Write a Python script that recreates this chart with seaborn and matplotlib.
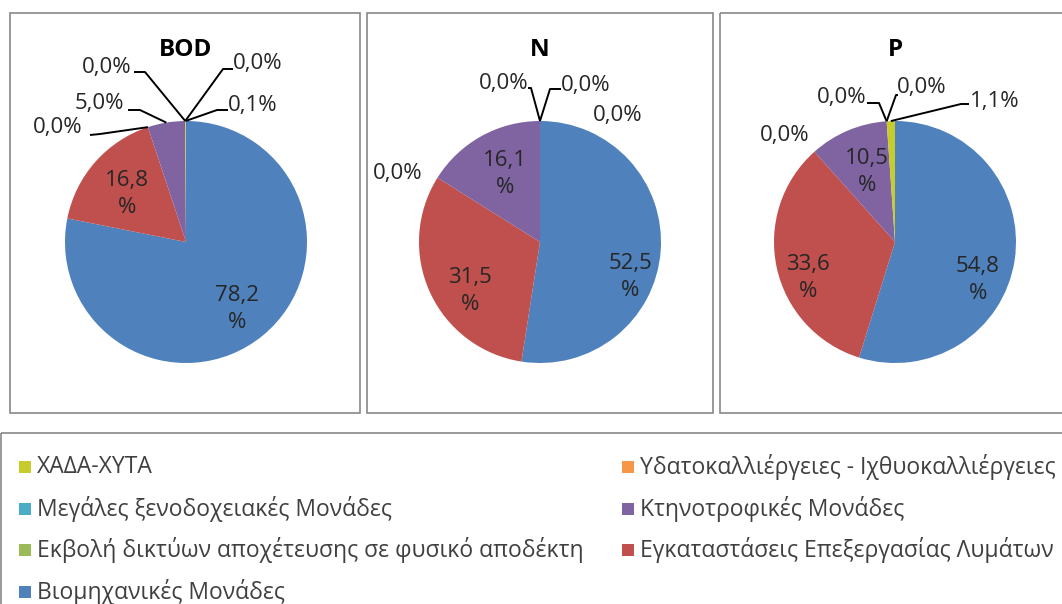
import matplotlib
matplotlib.use("Agg")
import matplotlib.pyplot as plt
import seaborn as sns
import numpy as np
from matplotlib.patches import Rectangle

# Data: pollutant load share per source (percent)
categories = [
    "Βιομηχανικές Μονάδες",
    "Εγκαταστάσεις Επεξεργασίας Λυμάτων",
    "Εκβολή δικτύων αποχέτευσης σε φυσικό αποδέκτη",
    "Κτηνοτροφικές Μονάδες",
    "Μεγάλες ξενοδοχειακές Μονάδες",
    "Υδατοκαλλιέργειες - Ιχθυοκαλλιέργειες",
    "ΧΑΔΑ-ΧΥΤΑ",
]
titles = ["BOD", "N", "P"]
bod_values = [78.2, 16.8, 0.0, 5.0, 0.0, 0.0, 0.1]
n_values = [52.5, 31.5, 0.0, 16.1, 0.0, 0.0, 0.0]
p_values = [54.8, 33.6, 0.0, 10.5, 0.0, 0.0, 1.1]
colors = ["#4F81BD", "#C0504D", "#9BBB59", "#8064A2", "#4BACC6", "#F79646", "#C5CC2C"]

sns.set_theme(style="white")
plt.rcParams['font.family'] = ['Open Sans', 'DejaVu Sans']

W, H = 1062, 604
fig = plt.figure(figsize=(W / 100, H / 100), dpi=100)
ax = fig.add_axes([0, 0, 1, 1])

txt_col = "#262626"
box_col = "#878787"

# layout of each panel: box x-range, pie centre, label positions (x, y) and leader points
panels = [
    dict(vals=bod_values, box=(10, 360), cx=186,
         labels={0: (237, 309), 1: (127, 194), 2: (58, 128), 3: (99, 103),
                 4: (107, 67), 5: (258, 63), 6: (253, 105)},
         leaders={2: [(90, 135), (100, 134)], 3: [(128, 110), (140, 110)],
                  4: [(134, 72), (145, 72)], 5: [(233, 69), (223, 69)],
                  6: [(228, 110), (217, 110)]}),
    dict(vals=n_values, box=(367, 713), cx=540,
         labels={0: (630, 277), 1: (470, 291), 2: (398, 173), 3: (505, 174),
                 4: (504, 83), 5: (586, 85), 6: (618, 115)},
         leaders={4: [(528, 88), (531, 88)], 5: [(561, 89), (550, 89)]}),
    dict(vals=p_values, box=(720, 1100), cx=895,
         labels={0: (978, 280), 1: (808, 278), 2: (785, 135), 3: (867, 172),
                 4: (842, 97), 5: (922, 88), 6: (995, 102)},
         leaders={4: [(867, 103), (879, 103)], 5: [(898, 95), (896, 95)],
                  6: [(969, 104), (961, 104)]}),
]
cy, r = 242, 121

for title, pan in zip(titles, panels):
    x0, x1 = pan["box"]
    ax.add_patch(Rectangle((x0, 13), x1 - x0, 400, fill=False, ec=box_col, lw=1.2))
    vals = np.array(pan["vals"])
    # y axis is inverted, so start at -90 and go counterclockwise in data space
    ax.pie(vals, colors=colors, center=(pan["cx"], cy), radius=r,
           startangle=-90, counterclock=True, wedgeprops=dict(linewidth=0))
    ax.text(pan["cx"], 50, title, ha="center", va="center", fontsize=17.5,
            fontweight="bold", color="black")
    frac = vals / vals.sum()
    cum = np.cumsum(frac) - frac / 2
    for i, v in enumerate(vals):
        s = f"{v:.1f}".replace(".", ",")
        lx, ly = pan["labels"][i]
        big = v > 10
        label = s + "\n%" if big else s + "%"
        ax.text(lx, ly, label, ha="center", va="center", fontsize=16,
                color=txt_col, linespacing=1.4)
        if i in pan["leaders"]:
            a = 2 * np.pi * cum[i]
            ex = pan["cx"] + r * np.sin(a)
            ey = cy - r * np.cos(a)
            pts = pan["leaders"][i] + [(ex, ey)]
            ax.plot([p[0] for p in pts], [p[1] for p in pts], color="black", lw=1.4,
                    solid_capstyle="butt")

# legend box
ax.add_patch(Rectangle((0.5, 433), 1100, 200, fill=False, ec=box_col, lw=1.2))
order = list(reversed(range(len(categories))))
for k, idx in enumerate(order):
    row, col = k // 2, k % 2
    sx = 19 if col == 0 else 622
    yc = 467 + row * 41.7
    ax.add_patch(Rectangle((sx, yc - 6), 12, 12, fc=colors[idx], ec="none"))
    ax.text(sx + 18, yc, categories[idx], ha="left", va="center", fontsize=16.5,
            color="#404040")

ax.set_xlim(0, W)
ax.set_ylim(H, 0)  # pixel coordinates, y down
ax.set_aspect("equal")
ax.axis("off")

fig.savefig("out.png", dpi=100, facecolor="white")
